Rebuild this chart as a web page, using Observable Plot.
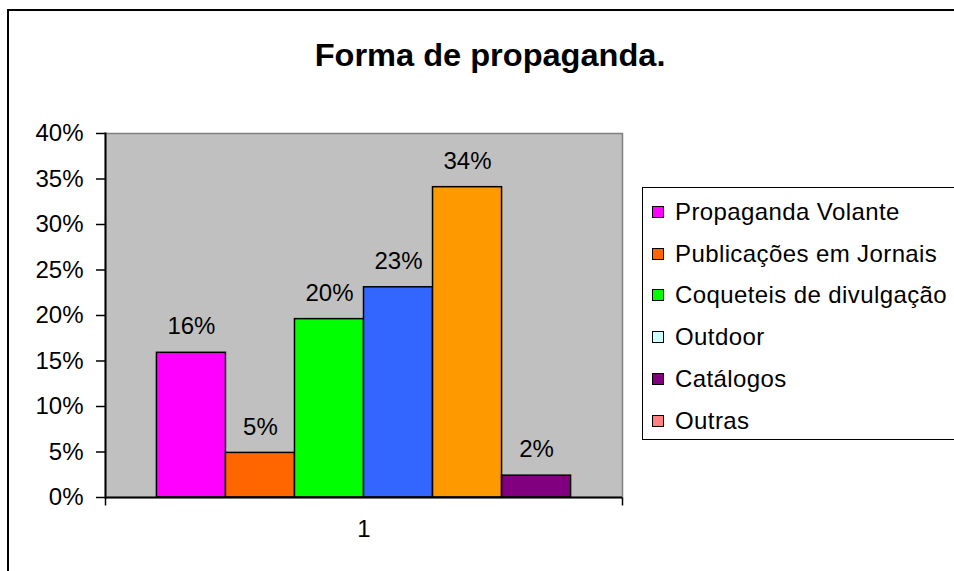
<!DOCTYPE html>
<html>
<head>
<meta charset="utf-8">
<script src="https://cdn.jsdelivr.net/npm/d3@7"></script>
<script src="https://cdn.jsdelivr.net/npm/@observablehq/plot@0.6"></script>
<style>
  html, body { margin: 0; padding: 0; background: #fff; overflow: hidden; }
  body { width: 954px; height: 571px; position: relative; font-family: "Liberation Sans", Arial, sans-serif; }
  #border { position: absolute; left: 7px; top: 9px; width: 1000px; height: 700px; border: 2px solid #000; box-sizing: border-box; }
  #chart { position: absolute; left: 0; top: 0; }
  #title { position: absolute; left: 0; width: 980px; top: 37px; text-align: center; font-weight: bold; font-size: 31px; line-height: 38px; color: #000; }
  #title span { display: inline-block; transform: scaleX(1.05); }
  #legend { position: absolute; left: 642px; top: 187px; width: 340px; height: 253px; border: 1.5px solid #000; background: #fff; box-sizing: border-box; padding-top: 3px; }
  .item { height: 41.8px; display: flex; align-items: center; font-size: 24px; letter-spacing: 0.4px; color: #000; white-space: nowrap; }
  .sw { width: 10px; height: 10px; border: 1.5px solid #000; margin-left: 9px; margin-right: 11px; flex: none; }
</style>
</head>
<body>
<div id="border"></div>
<div id="chart"></div>
<div id="title"><span>Forma de propaganda.</span></div>
<div id="legend"></div>
<script>
// ---- data ----
const titleText = "Forma de propaganda.";
const seriesNames = ["Propaganda Volante", "Publicações em Jornais", "Coqueteis de divulgação", "Outdoor", "Catálogos", "Outras"];
const barValues = [0.159, 0.049, 0.196, 0.231, 0.341, 0.024];
const barColors = ["#FF00FF", "#FF6600", "#00FF00", "#3366FF", "#FF9900", "#800080"];
const legendColors = ["#FF00FF", "#FF6600", "#00FF00", "#CCFFFF", "#800080", "#FF8080"];
const yTicks = [0, 0.05, 0.10, 0.15, 0.20, 0.25, 0.30, 0.35, 0.40];
const categoryLabel = "1";

const bars = barValues.map((v, i) => ({ key: "s" + i, value: v, color: barColors[i], label: Math.round(v * 100) + "%" }));

const edgeTick = { draw(context) { context.moveTo(0, 0); context.lineTo(0, 8); } };
const pct = d => Math.round(d * 100) + "%";

const chart = Plot.plot({
  width: 954,
  height: 571,
  marginLeft: 105,
  marginRight: 332,
  marginTop: 133,
  marginBottom: 74,
  style: { fontFamily: "Liberation Sans, Arial, sans-serif", color: "#000", background: "transparent", overflow: "visible" },
  x: { type: "band", domain: bars.map(d => d.key), paddingInner: 0, paddingOuter: 0.745, round: false, axis: null },
  y: { domain: [0, 0.4], axis: null },
  color: { type: "identity" },
  marks: [
    Plot.frame({ fill: "#C0C0C0", stroke: "#808080", strokeWidth: 1.5 }),
    Plot.barY(bars, { x: "key", y: "value", fill: "color", stroke: "#000", strokeWidth: 1.5 }),
    Plot.text(bars, { x: "key", y: "value", text: "label", dy: -26, fontSize: 24, fill: "#000" }),
    Plot.axisY({ ticks: yTicks, tickFormat: pct, tickSize: 9, tickPadding: 13, fontSize: 24, stroke: "#000", strokeWidth: 1.5, fill: "#000", label: null }),
    Plot.frame({ anchor: "left", stroke: "#000", strokeWidth: 2 }),
    Plot.ruleY([0], { stroke: "#000", strokeWidth: 2 }),
    Plot.dot([0], { frameAnchor: "bottom-left", symbol: edgeTick, fill: "none", stroke: "#000", strokeWidth: 1.5 }),
    Plot.dot([0], { frameAnchor: "bottom-right", symbol: edgeTick, fill: "none", stroke: "#000", strokeWidth: 1.5 }),
    Plot.text([categoryLabel], { text: d => d, frameAnchor: "bottom", dy: 39, fontSize: 24, fill: "#000" })
  ]
});
document.getElementById("chart").appendChild(chart);

document.querySelector("#title span").textContent = titleText;
const legend = document.getElementById("legend");
seriesNames.forEach((name, i) => {
  const row = document.createElement("div");
  row.className = "item";
  const sw = document.createElement("div");
  sw.className = "sw";
  sw.style.background = legendColors[i];
  const t = document.createElement("span");
  t.textContent = name;
  row.appendChild(sw);
  row.appendChild(t);
  legend.appendChild(row);
});
</script>
</body>
</html>
